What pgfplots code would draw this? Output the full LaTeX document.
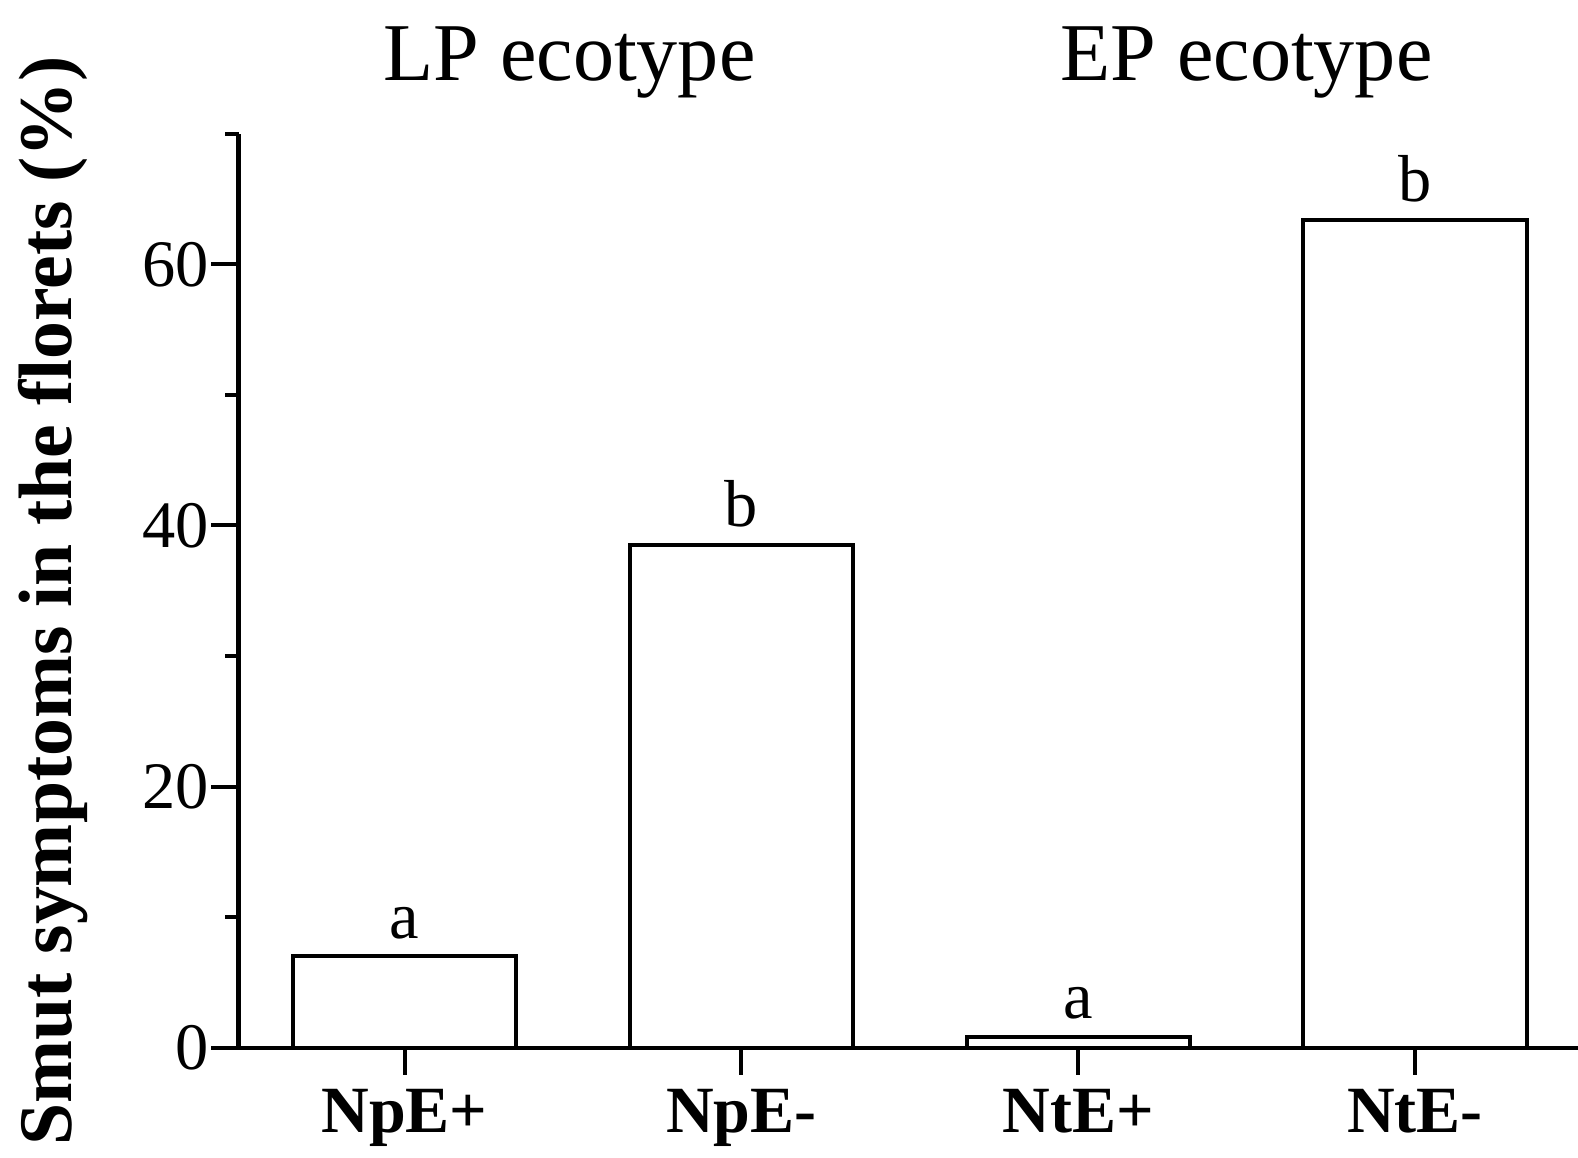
\documentclass[border=0pt]{standalone}
\usepackage{fontspec}
\setmainfont{Liberation Serif}
\usepackage{pgfplots}
\pgfplotsset{compat=1.18}
\begin{document}
\begin{tikzpicture}
\begin{axis}[name=ax, scale only axis, width=332.75pt, height=227pt,
 xmin=-0.493, xmax=3.484, ymin=0, ymax=70,
 axis lines=left, axis line style={-, line width=1pt},
 ytick={0,20,40,60}, minor ytick={10,30,50,70},
 xtick={0,1,2,3}, xticklabels={NpE+,NpE-,NtE+,NtE-},
 tick align=outside, major tick length=6.75pt, minor tick length=3.25pt,
 tick style={line width=1pt, black},
 x tick label style={font=\fontsize{16.4}{18}\selectfont\bfseries},
 y tick label style={font=\fontsize{16.5}{18}\selectfont, xshift=3pt},
 /pgf/number format/assume math mode=true,
 ylabel={Smut symptoms in the florets (\%)},
 ylabel style={font=\fontsize{18.8}{20}\selectfont\bfseries, at={(axis description cs:-0.112,0.489)}, anchor=south, inner sep=0pt},
 clip=false,
 ]
\addplot[ybar, bar width=0.663, draw=black, line width=1pt, fill=white,
  nodes near coords, point meta=explicit symbolic,
  nodes near coords style={anchor=base, inner sep=0pt, yshift=4.5pt, font=\fontsize{16.5}{18}\selectfont}]
  coordinates {(0,7.0)[a] (1,38.5)[b] (2,0.85)[a] (3,63.4)[b]};
\node[anchor=base, inner sep=0pt, font=\fontsize{20.4}{22}\selectfont] at (axis cs:0.49,70) [yshift=13.25pt] {LP ecotype};
\node[anchor=base, inner sep=0pt, font=\fontsize{20.4}{22}\selectfont] at (axis cs:2.5,70) [yshift=13.25pt] {EP ecotype};
\end{axis}
\pgfresetboundingbox
\path (ax.south west) ++(-59.25pt,-27.25pt) rectangle ++(392pt,287.5pt);
\end{tikzpicture}
\end{document}
